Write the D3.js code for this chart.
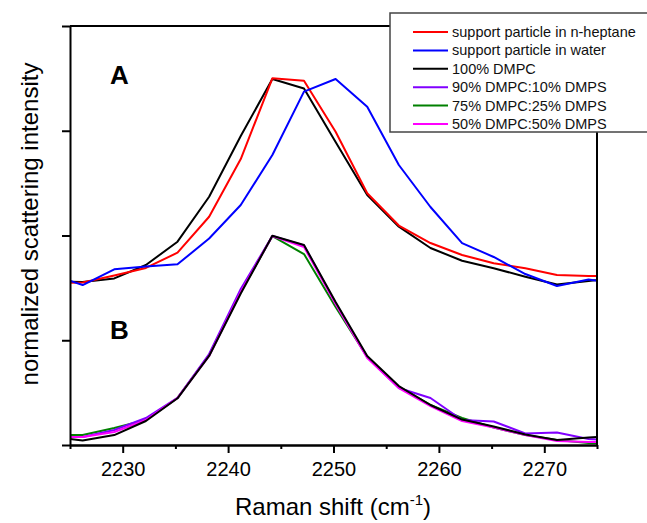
<!DOCTYPE html>
<html>
<head>
<meta charset="utf-8">
<script src="https://cdn.jsdelivr.net/npm/d3@7"></script>
<style>
  html, body { margin: 0; padding: 0; background: #fff; }
  svg { display: block; font-family: "Liberation Sans", Arial, sans-serif; }
</style>
</head>
<body>
<svg id="chart" width="647" height="523"></svg>
<script>
// Raman shift positions (cm-1)
const ramanShift = [2223.2, 2226.2, 2229.2, 2232.2, 2235.2, 2238.2, 2241.2, 2244.2, 2247.2, 2250.2,
                    2253.2, 2256.2, 2259.2, 2262.2, 2265.2, 2268.2, 2271.2, 2274.2, 2277.2];

// Panel A (offset upward)
const heptaneA = [1.547, 1.551, 1.618, 1.690, 1.836, 2.179, 2.730, 3.501, 3.478, 2.991,
                  2.403, 2.095, 1.928, 1.814, 1.735, 1.687, 1.623, 1.613, 1.613];
const waterA   = [1.628, 1.527, 1.677, 1.703, 1.725, 1.971, 2.291, 2.768, 3.373, 3.494,
                  3.230, 2.673, 2.272, 1.928, 1.795, 1.632, 1.518, 1.580, 1.537];
const dmpcA    = [1.561, 1.556, 1.590, 1.718, 1.941, 2.370, 2.950, 3.494, 3.403, 2.893,
                  2.387, 2.084, 1.881, 1.759, 1.687, 1.607, 1.532, 1.566, 1.604];

// Panel B
const dmpcB    = [0.076, 0.043, 0.095, 0.229, 0.446, 0.850, 1.446, 1.998, 1.909, 1.365,
                  0.850, 0.563, 0.382, 0.243, 0.177, 0.100, 0.048, 0.072, 0.086];
const dmps10B  = [0.076, 0.076, 0.143, 0.258, 0.449, 0.869, 1.489, 1.995, 1.905, 1.356,
                  0.840, 0.544, 0.449, 0.239, 0.224, 0.110, 0.119, 0.057, 0.038];
const dmps25B  = [0.095, 0.095, 0.162, 0.239, 0.449, 0.859, 1.461, 1.995, 1.823, 1.317,
                  0.840, 0.554, 0.382, 0.258, 0.167, 0.095, 0.048, 0.019, 0.019];
const dmps50B  = [0.076, 0.076, 0.124, 0.239, 0.449, 0.850, 1.461, 1.995, 1.890, 1.346,
                  0.831, 0.544, 0.372, 0.229, 0.167, 0.095, 0.038, 0.029, 0.029];

const legendLabels = ["support particle in n-heptane", "support particle in water", "100% DMPC",
                      "90% DMPC:10% DMPS", "75% DMPC:25% DMPS", "50% DMPC:50% DMPS"];
const legendColors = ["#ff0000", "#0000ff", "#000000", "#8000ff", "#008000", "#ff00ff"];

const xMajorTicks = [2230, 2240, 2250, 2260, 2270];
const xMinorTicks = [2225, 2235, 2245, 2255, 2265, 2275];
const yTicks = [0, 1, 2, 3, 4];

(function () {
const svg = d3.select("#chart");
const pL = 70, pR = 597, pT = 26, pB = 445;

const x = d3.scaleLinear().domain([2225, 2275]).range([pL, pR]);
const y = d3.scaleLinear().domain([0, 4]).range([pB, pT]);

svg.append("defs").append("clipPath").attr("id", "plotclip")
  .append("rect").attr("x", pL).attr("y", pT).attr("width", pR - pL).attr("height", pB - pT);

const line = d3.line().x(d => x(d[0])).y(d => y(d[1]));
const plot = svg.append("g").attr("clip-path", "url(#plotclip)");

const seriesDraw = [
  [dmps25B, "#008000"], [dmps10B, "#8000ff"], [dmps50B, "#ff00ff"], [dmpcB, "#000000"],
  [dmpcA, "#000000"], [heptaneA, "#ff0000"], [waterA, "#0000ff"]
];
seriesDraw.forEach(([vals, col]) => {
  plot.append("path")
    .datum(ramanShift.map((r, i) => [r, vals[i]]))
    .attr("fill", "none").attr("stroke", col).attr("stroke-width", 2)
    .attr("stroke-linejoin", "round")
    .attr("d", line);
});

const axStyle = g => {
  g.selectAll("path, line").attr("stroke", "#000").attr("stroke-width", 2);
  g.selectAll("text").attr("fill", "#000");
};

svg.append("g").attr("transform", `translate(0,${pB})`)
  .call(d3.axisBottom(x).tickValues(xMinorTicks).tickSize(4).tickSizeOuter(0).tickFormat(""))
  .call(axStyle);
svg.append("g").attr("transform", `translate(0,${pB})`)
  .call(d3.axisBottom(x).tickValues(xMajorTicks).tickSize(8).tickSizeOuter(0).tickPadding(9)
        .tickFormat(d3.format("d")))
  .call(axStyle)
  .call(g => g.selectAll("text").attr("font-size", 20).attr("font-family", "Liberation Sans, Arial, sans-serif"));

svg.append("g").attr("transform", `translate(${pL},0)`)
  .call(d3.axisLeft(y).tickValues(yTicks).tickSize(8).tickSizeOuter(0).tickFormat(""))
  .call(axStyle);

svg.append("line").attr("x1", pR).attr("x2", pR).attr("y1", pT).attr("y2", pB)
  .attr("stroke", "#000").attr("stroke-width", 2);
svg.append("line").attr("x1", pL).attr("x2", pR).attr("y1", pT).attr("y2", pT)
  .attr("stroke", "#000").attr("stroke-width", 2);

svg.append("text").attr("x", 110).attr("y", 84).attr("font-size", 26).attr("font-weight", "bold").text("A");
svg.append("text").attr("x", 110).attr("y", 339).attr("font-size", 26).attr("font-weight", "bold").text("B");

const xt = svg.append("text").attr("x", 333).attr("y", 515).attr("text-anchor", "middle")
  .attr("font-size", 24).attr("fill", "#000");
xt.append("tspan").text("Raman shift (cm");
xt.append("tspan").attr("font-size", 15).attr("dy", -10).text("-1");
xt.append("tspan").attr("dy", 10).text(")");

svg.append("text").attr("transform", "translate(38,224) rotate(-90)")
  .attr("text-anchor", "middle").attr("font-size", 24).attr("fill", "#000")
  .text("normalized scattering intensity");

const lg = svg.append("g");
lg.append("rect").attr("x", 390).attr("y", 13).attr("width", 262).attr("height", 119)
  .attr("fill", "#fff").attr("stroke", "#444").attr("stroke-width", 1.5);
legendLabels.forEach((lab, i) => {
  const yy = 32 + i * 18.4;
  lg.append("line").attr("x1", 413).attr("x2", 448).attr("y1", yy).attr("y2", yy)
    .attr("stroke", legendColors[i]).attr("stroke-width", 2);
  lg.append("text").attr("x", 452).attr("y", yy + 5).attr("font-size", 14.5).attr("fill", "#111").text(lab);
});
})();
</script>
</body>
</html>
